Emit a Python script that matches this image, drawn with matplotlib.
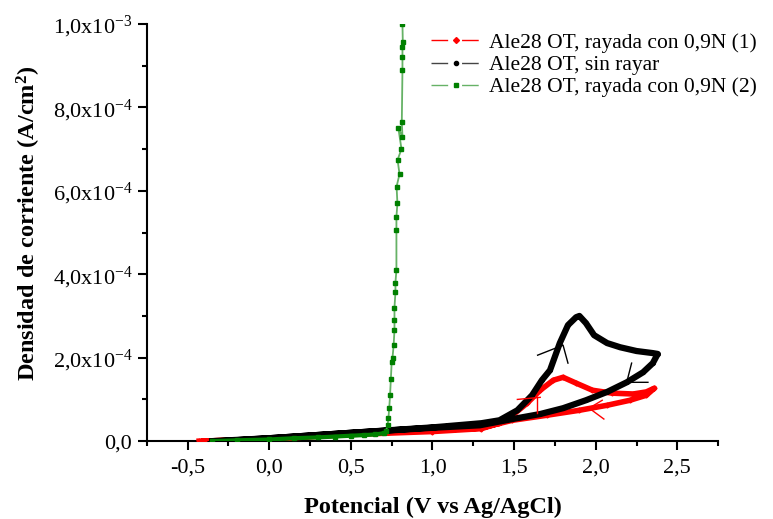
import matplotlib
matplotlib.use("Agg")
import math
import matplotlib.pyplot as plt
from matplotlib.lines import Line2D
from matplotlib.ticker import MultipleLocator, FuncFormatter

# Ale28 OT, sin rayar (ida y vuelta)
x_sin = [-0.35, 0.0, 0.5, 1.0, 1.3, 1.41, 1.52, 1.61, 1.67, 1.72, 1.78, 1.83, 1.88, 1.90,
         1.94, 1.99, 2.07, 2.15, 2.25, 2.35, 2.38,
         2.35, 2.29, 2.19, 2.07, 1.94, 1.80, 1.66, 1.49, 1.29, 1.0, 0.5, 0.0, -0.3]
j_sin = [0.0, 7e-6, 2.0e-5, 3.3e-5, 4.3e-5, 5.0e-5, 7.4e-5, 1.1e-4, 1.46e-4, 1.7e-4, 2.35e-4, 2.78e-4, 2.97e-4, 3.0e-4,
         2.83e-4, 2.54e-4, 2.35e-4, 2.25e-4, 2.16e-4, 2.11e-4, 2.09e-4,
         1.87e-4, 1.65e-4, 1.41e-4, 1.18e-4, 9.8e-5, 7.9e-5, 6.5e-5, 5.3e-5, 3.8e-5, 3.2e-5, 2.0e-5, 7e-6, 0.0]

# Ale28 OT, rayada con 0,9N (1)
x_ray1 = [-0.43, 0.0, 0.5, 1.0, 1.3, 1.41, 1.49, 1.58, 1.66, 1.74, 1.80, 1.88, 1.98, 2.10,
          2.23, 2.31, 2.36,
          2.31, 2.21, 2.07, 1.90, 1.70, 1.49, 1.29, 1.0, 0.5, 0.0, -0.4]
j_ray1 = [0.0, 5e-6, 1.6e-5, 2.3e-5, 3.0e-5, 4.3e-5, 6.2e-5, 9.1e-5, 1.22e-4, 1.46e-4, 1.53e-4, 1.39e-4, 1.22e-4, 1.15e-4,
          1.13e-4, 1.18e-4, 1.27e-4,
          1.10e-4, 9.8e-5, 8.6e-5, 7.4e-5, 6.2e-5, 5.0e-5, 3.1e-5, 2.6e-5, 1.7e-5, 6e-6, 0.0]

# Ale28 OT, rayada con 0,9N (2)
x_ray2 = [-0.35, -0.2, 0.0, 0.15, 0.3, 0.4, 0.5, 0.58, 0.65, 0.70, 0.715, 0.725, 0.73, 0.735,
          0.74, 0.745, 0.75, 0.755, 0.762, 0.767, 0.767, 0.767, 0.773, 0.773, 0.779, 0.779,
          0.779, 0.785, 0.780, 0.798, 0.786, 0.810, 0.791, 0.816, 0.812, 0.816, 0.816,
          0.816, 0.818, 0.816]
j_ray2 = [0.0, 2e-6, 4e-6, 7e-6, 9e-6, 1.1e-5, 1.3e-5, 1.45e-5, 1.6e-5, 1.9e-5, 2.5e-5, 3.8e-5, 5.5e-5, 8e-5,
          1.1e-4, 1.5e-4, 1.9e-4, 2.0e-4, 2.3e-4, 2.66e-4, 2.9e-4, 3.2e-4, 3.57e-4, 3.8e-4, 4.1e-4, 5.06e-4,
          5.37e-4, 5.7e-4, 6.1e-4, 6.4e-4, 6.74e-4, 7.0e-4, 7.5e-4, 7.3e-4, 7.65e-4, 8.9e-4, 9.2e-4,
          9.45e-4, 9.57e-4, 1.0e-3]

# flechas de sentido de barrido
flecha_sin_1 = ([1.644, 1.80, 1.83], [2.06e-4, 2.30e-4, 1.87e-4])
flecha_sin_2 = ([2.22, 2.19, 2.32], [1.87e-4, 1.41e-4, 1.41e-4])
flecha_ray_1 = ([1.52, 1.66], [1.0e-4, 1.05e-4])
flecha_ray_1b = ([1.64, 1.64], [1.05e-4, 6.7e-5])
flecha_ray_2 = ([2.04, 1.96, 2.05], [9.8e-5, 7.9e-5, 5.3e-5])

etiquetas = ["Ale28 OT, rayada con 0,9N (1)", "Ale28 OT, sin rayar", "Ale28 OT, rayada con 0,9N (2)"]

plt.rcParams['font.family'] = ['Liberation Serif', 'DejaVu Serif']
plt.rcParams['mathtext.default'] = 'regular'

fig = plt.figure(figsize=(7.73, 5.19), dpi=100)
ax = fig.add_axes([0.190, 0.150, 0.739, 0.804])

ax.plot(x_ray1, j_ray1, color='#ff0000', lw=4, marker='D', ms=2.5, zorder=3)
ax.plot(x_sin, j_sin, color='black', lw=4.5, marker='o', ms=2.5, zorder=4)
ax.plot(x_ray2, j_ray2, color='#66b266', lw=1.3, marker='s', ms=3, mfc='#008000', mec='#008000', zorder=5)
ax.plot(x_ray2[:10], j_ray2[:10], color='#008000', lw=3, zorder=5)

for fx, fy in [flecha_sin_1, flecha_sin_2]:
    ax.plot(fx, fy, color='black', lw=1, zorder=6)
for fx, fy in [flecha_ray_1, flecha_ray_1b, flecha_ray_2]:
    ax.plot(fx, fy, color='#ff0000', lw=1, zorder=6)

ax.set_xlim(-0.75, 2.75)
ax.set_ylim(0, 1e-3)
ax.xaxis.set_major_locator(MultipleLocator(0.5))
ax.xaxis.set_minor_locator(MultipleLocator(0.25))
ax.yaxis.set_major_locator(MultipleLocator(2e-4))
ax.yaxis.set_minor_locator(MultipleLocator(1e-4))


def fmt_x(v, pos):
    return ('%.1f' % v).replace('.', ',')


def fmt_y(v, pos):
    if abs(v) < 1e-12:
        return '0,0'
    exp = int(math.floor(math.log10(abs(v)) + 1e-9))
    m = v / 10 ** exp
    return ('%.1f' % m).replace('.', ',') + 'x10$^{%d}$' % exp


ax.xaxis.set_major_formatter(FuncFormatter(fmt_x))
ax.yaxis.set_major_formatter(FuncFormatter(fmt_y))

for s in ['top', 'right']:
    ax.spines[s].set_visible(False)
for s in ['left', 'bottom']:
    ax.spines[s].set_linewidth(1.5)
ax.tick_params(which='major', direction='out', length=6.5, width=1.5, labelsize=16)
ax.tick_params(which='minor', direction='out', length=3.5, width=1.5)
ax.tick_params(axis='x', which='major', pad=6)
ax.tick_params(axis='y', which='major', pad=4)

ax.set_xlabel('Potencial (V vs Ag/AgCl)', fontsize=17.5, fontweight='bold', labelpad=14)
ax.set_ylabel('Densidad de corriente (A/cm$^{2}$)', fontsize=17.5, fontweight='bold')
ax.yaxis.set_label_coords(-0.182, 0.523)

handles = [
    Line2D([], [], color='#ff0000', lw=1, dashes=(12, 10), marker='D', ms=3, mfc='#ff0000', mec='#ff0000'),
    Line2D([], [], color='#444444', lw=1, dashes=(12, 10), marker='o', ms=3, mfc='black', mec='black'),
    Line2D([], [], color='#66b266', lw=1, dashes=(12, 10), marker='s', ms=3, mfc='#008000', mec='#008000'),
]
fig.legend(handles, etiquetas, loc='upper left', bbox_to_anchor=(0.557, 0.9365), frameon=False,
           fontsize=15.5, handlelength=2.37, handletextpad=0.33, labelspacing=0.1, numpoints=1,
           borderaxespad=0, borderpad=0)

fig.savefig('out.png', dpi=100)
